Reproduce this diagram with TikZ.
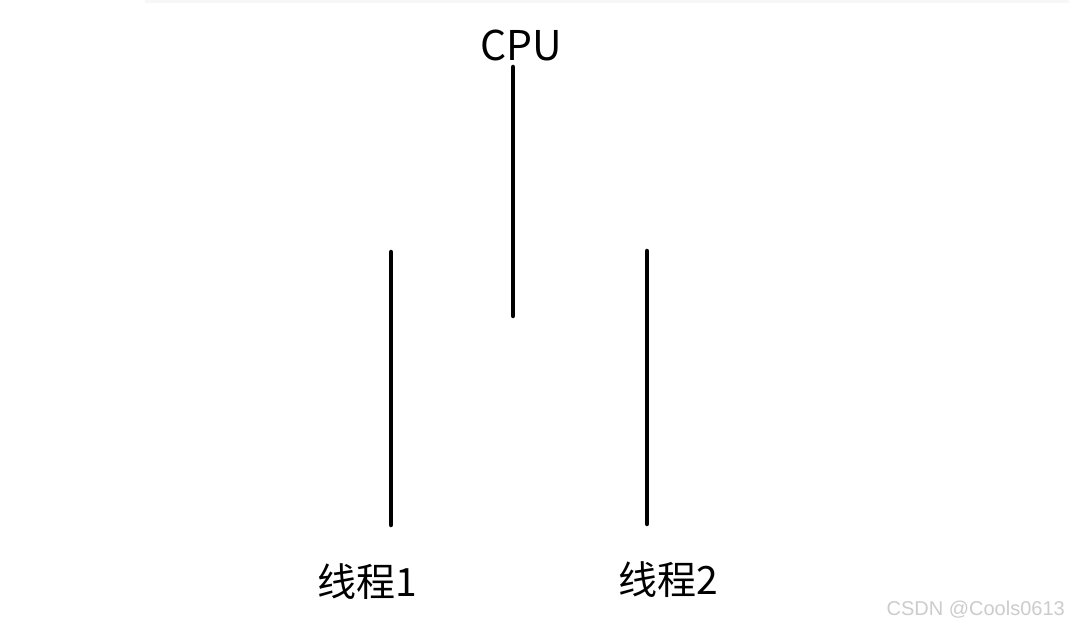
\documentclass[tikz,border=0pt]{standalone}
\usepackage{fontspec}
\setmainfont{Noto Sans CJK SC}
\newfontfamily\wmfont{Liberation Sans}
\begin{document}
\begin{tikzpicture}[x=1pt,y=-1pt,
  bar/.style={line width=4.5pt,line cap=round},
  lbl/.style={inner sep=0pt,font=\fontsize{39}{44}\selectfont},
  wm/.style={inner sep=0pt,text=black!20,font=\wmfont\fontsize{20}{24}\selectfont}]
\useasboundingbox[fill=white] (0,0) rectangle (1069,628);
\fill[black!3] (145,0) rectangle (1069,3);
\node[lbl,font=\fontsize{41}{46}\selectfont] (cpu) at (521,45) {CPU};
\node[lbl] (t1) at (367,582) {线程1};
\node[lbl] (t2) at (668,580) {线程2};
\coordinate (c1) at (513,67);
\coordinate (c2) at (513,316);
\coordinate (l1) at (391,252);
\coordinate (l2) at (391,525);
\coordinate (r1) at (647,251);
\coordinate (r2) at (647,524);
\draw[bar] (c1) -- (c2);
\draw[bar] (l1) -- (l2);
\draw[bar] (r1) -- (r2);
\node[wm,anchor=east] (w) at (1065,610) {CSDN @Cools0613};
\end{tikzpicture}
\end{document}
